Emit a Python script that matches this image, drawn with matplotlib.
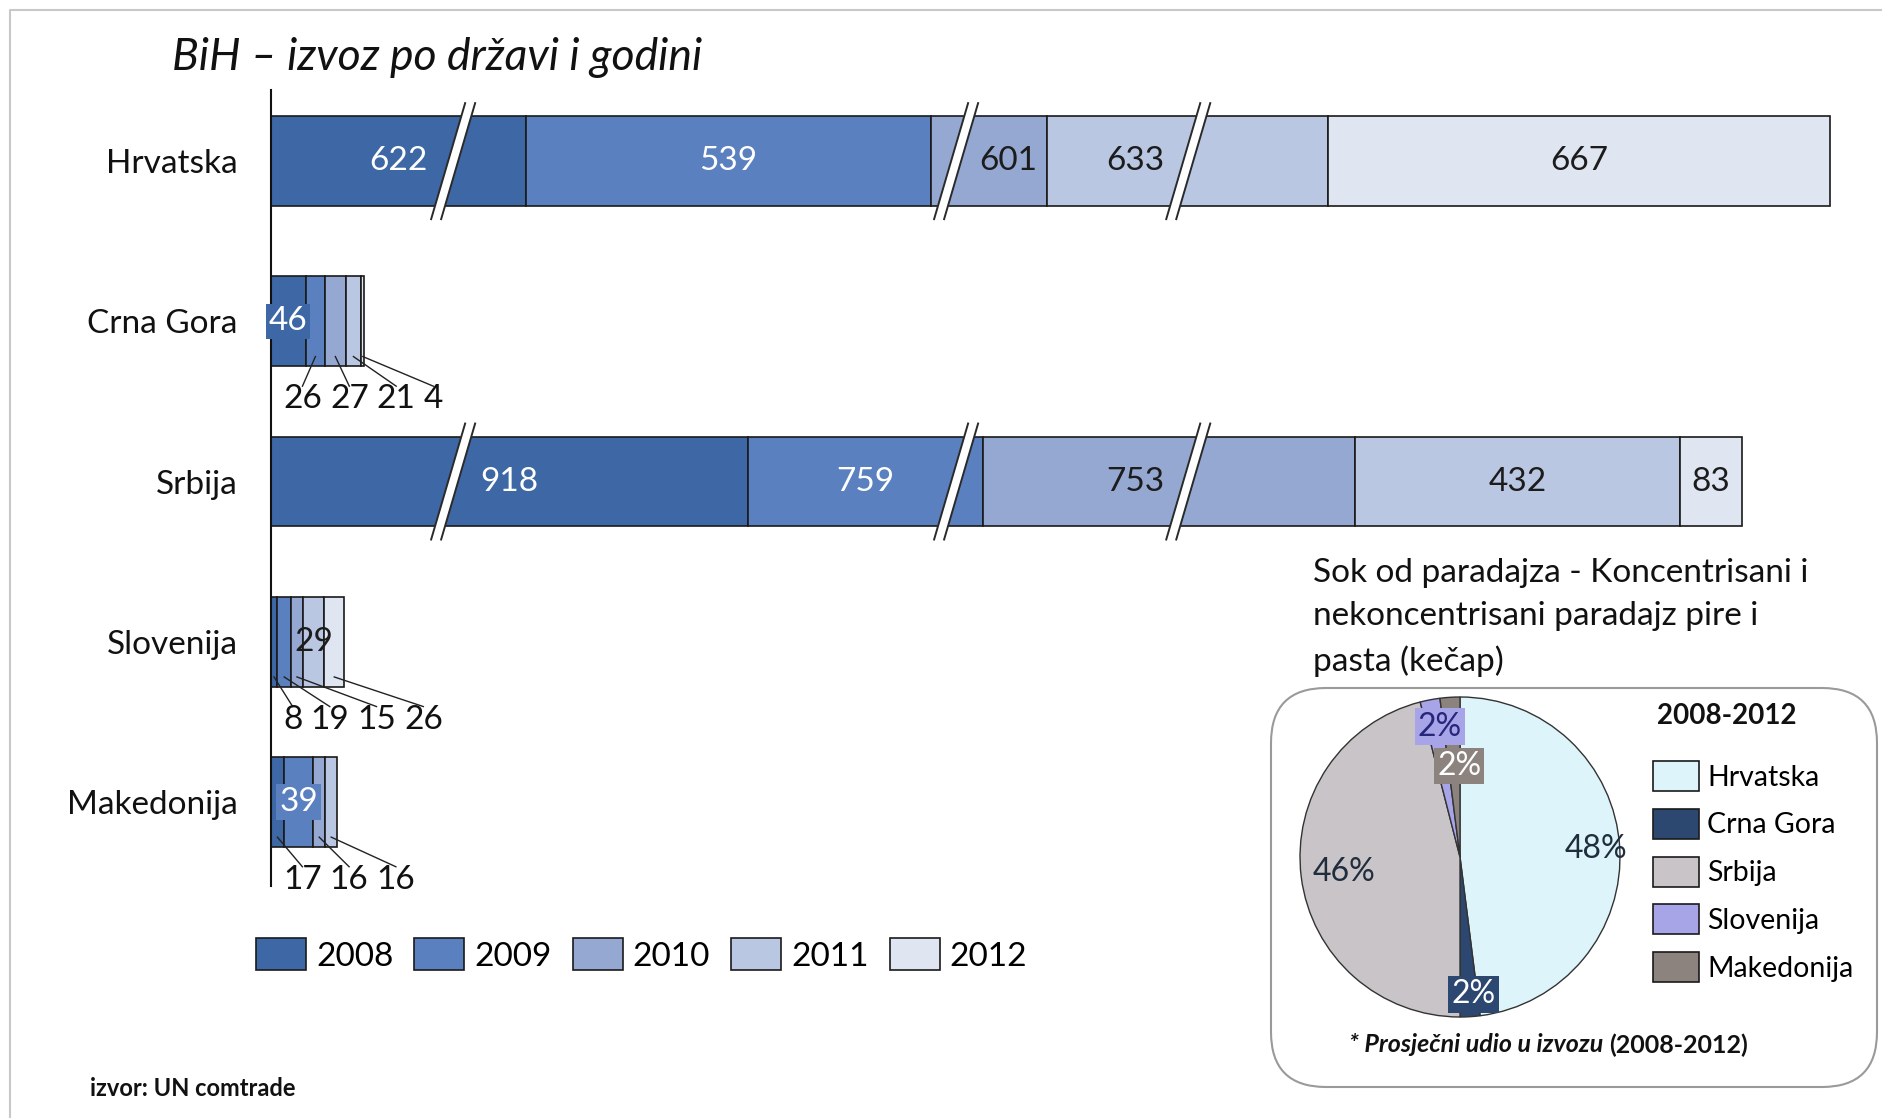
import numpy as np
import matplotlib
matplotlib.use('Agg')
import matplotlib.pyplot as plt
import matplotlib.transforms as mtransforms
from matplotlib.patches import Patch, Polygon, FancyBboxPatch
from matplotlib.lines import Line2D

plt.rcParams['font.family'] = ['Lato', 'DejaVu Sans']

# ---------------- data ----------------
countries = ['Hrvatska', 'Crna Gora', 'Srbija', 'Slovenija', 'Makedonija']
years = ['2008', '2009', '2010', '2011', '2012']
v2008 = [622, 46, 918, 8, 17]
v2009 = [539, 26, 759, 19, 39]
v2010 = [601, 27, 753, 15, 16]
v2011 = [633, 21, 432, 29, 16]
v2012 = [667, 4, 83, 26, 0]
# value ranges cut out of the x axis (drawn as // marks)
axis_breaks = [(242, 526), (1194, 1642), (1950, 2209)]
broken_rows = ['Hrvatska', 'Srbija']

pie_names = ['Hrvatska', 'Crna Gora', 'Srbija', 'Slovenija', 'Makedonija']
pie_share = [48, 2, 46, 2, 2]

# ---------------- style ----------------
W, H = 1883, 1118
BIG = 24
year_colors = ['#3D68A5', '#5B80C0', '#95A8D2', '#BAC7E2', '#DFE5F1']
year_text = ['white', 'white', '#1c1c1c', '#1c1c1c', '#1c1c1c']
pie_colors = ['#DDF5FA', '#2C4770', '#C9C4C7', '#A8A4E8', '#8C837F']
pie_text = ['#1f2d3d', 'white', '#1f2d3d', '#26267a', 'white']
pie_dist = [0.82, 0.86, 0.76, 0.83, 0.57]
pie_box = [False, True, False, True, True]
label_nudge = {('Hrvatska', 2): 19, ('Hrvatska', 3): -52, ('Srbija', 2): -33}

EPS = 0.001


def fwd(x):
    x = np.asarray(x, dtype=float)
    out = x.copy()
    for a, b in axis_breaks:
        out = out - np.clip(x - a, 0, b - a) * (1 - EPS)
    return out


_knots = np.array([-1e5] + [v for ab in axis_breaks for v in ab] + [1e5], dtype=float)


def inv(y):
    return np.interp(np.asarray(y, dtype=float), fwd(_knots), _knots)


fig = plt.figure(figsize=(W / 100, H / 100), dpi=100)
px = mtransforms.IdentityTransform()

# outer frame lines
fig.add_artist(Line2D([10, 10, W], [0, H - 10, H - 10], transform=px, color='#c8c8c8', lw=1.5))

ax = fig.add_axes([271 / W, 1 - 886 / H, 1579 / W, 796 / H])
ax.patch.set_visible(False)
ax.set_xscale('function', functions=(fwd, inv))
ax.set_xlim(0, 3088)
ax.set_ylim(4.525, -0.444)
for s in ['top', 'right', 'bottom']:
    ax.spines[s].set_visible(False)
ax.spines['left'].set_linewidth(1.5)
ax.spines['left'].set_color('#111111')
ax.set_xticks([])
ax.set_xticks([], minor=True)
ax.set_yticks(range(len(countries)))
ax.set_yticklabels(countries, fontsize=BIG, color='#111111')
ax.tick_params(axis='y', length=0, pad=24)

series = np.array([v2008, v2009, v2010, v2011, v2012], dtype=float)
ypos = np.arange(len(countries))
BAR_H = 0.56
left = np.zeros(len(countries))
for j, yr in enumerate(years):
    vals = series[j]
    mask = vals > 0
    ax.barh(ypos[mask], vals[mask], left=left[mask], height=BAR_H,
            color=year_colors[j], edgecolor='#1a1a1a', lw=1.2, label=yr)
    left = left + vals

renderer = fig.canvas.get_renderer()

# data labels
for i, c in enumerate(countries):
    vals = series[:, i]
    starts = np.concatenate([[0], np.cumsum(vals)[:-1]])
    centers = [inv((fwd(s) + fwd(s + v)) / 2) for s, v in zip(starts, vals)]
    if c in broken_rows:
        for j, v in enumerate(vals):
            tr = mtransforms.offset_copy(ax.transData, fig=fig, x=label_nudge.get((c, j), 0), units='dots')
            ax.text(centers[j], i, f'{int(v)}', transform=tr, ha='center', va='center',
                    fontsize=BIG, color=year_text[j])
    else:
        k = int(np.argmax(vals))
        kw = {}
        if k < 2:
            kw['bbox'] = dict(boxstyle='square,pad=0.08', fc=year_colors[k], ec='none')
        ax.text(centers[k], i, f'{int(vals[k])}', ha='center', va='center',
                fontsize=BIG, color=year_text[k], **kw)
        # the rest go below the bar with leader lines
        x0 = ax.transData.transform((0, i))[0] + 12
        ybot = ax.transData.transform((0, i + BAR_H / 2))[1]
        ylab = ybot - 33
        for j, v in enumerate(vals):
            if j == k or v <= 0:
                continue
            t = fig.text(x0, ylab, f'{int(v)}', transform=px, ha='left', va='center',
                         fontsize=BIG, color='#111111')
            bb = t.get_window_extent(renderer)
            xa, ya = ax.transData.transform((centers[j], i + 0.22))
            fig.add_artist(Line2D([(bb.x0 + bb.x1) / 2, xa], [bb.y1 - 2, ya], transform=px,
                                  color='#222222', lw=1.0))
            x0 = bb.x1 + 8

# axis break marks
for c in broken_rows:
    i = countries.index(c)
    for a, b in axis_breaks:
        tr = mtransforms.ScaledTranslation(a, i, ax.transData)
        hh, sl, hw = 58, 17, 5
        ax.add_patch(Polygon([(-sl - hw, -hh), (-sl + hw, -hh), (sl + hw, hh), (sl - hw, hh)],
                             closed=True, transform=tr, fc='white', ec='none', clip_on=False, zorder=5))
        for d in (-hw, hw):
            ax.add_artist(Line2D([-sl + d, sl + d], [-hh, hh], transform=tr, color='#2a2a2a',
                                 lw=1.4, clip_on=False, zorder=6))

# year legend
handles = [Patch(facecolor=year_colors[j], edgecolor='#1a1a1a', lw=1.2) for j in range(len(years))]
fig.legend(handles, years, loc='center left', bbox_to_anchor=(256 / W, 1 - 955 / H), ncol=5,
           frameon=False, fontsize=BIG, handlelength=1.5, handleheight=1.1, handletextpad=0.3,
           columnspacing=0.63, borderaxespad=0, borderpad=0)

fig.text(172 / W, 1 - 57 / H, 'BiH – izvoz po državi i godini', style='italic', fontsize=32,
         va='center', color='#111111')
fig.text(90 / W, 1 - 1089 / H, 'izvor: UN comtrade', weight='bold', fontsize=17, va='center',
         color='#111111')

# ---------------- pie panel ----------------
fig.add_artist(FancyBboxPatch((1271, 31), 606, 399, boxstyle='round,pad=0,rounding_size=55',
                              transform=px, fc='white', ec='#9a9a9a', lw=1.5, zorder=-1))
fig.text(1313 / W, 1 - 558 / H,
         'Sok od paradajza - Koncentrisani i\nnekoncentrisani paradajz pire i\npasta (kečap)',
         fontsize=BIG, va='top', ha='left', linespacing=1.55, color='#111111')

pax = fig.add_axes([(1460 - 164) / W, (1118 - 857 - 164) / H, 328 / W, 328 / H])
pax.set_zorder(2)
pax.patch.set_visible(False)
wedges, _ = pax.pie(pie_share, colors=pie_colors, startangle=90, counterclock=False,
                    wedgeprops=dict(edgecolor='#333333', lw=1.0))
pax.set_xlim(-1.025, 1.025)
pax.set_ylim(-1.025, 1.025)
pax.set_aspect('equal')
for w, v, d, tc, box, fc in zip(wedges, pie_share, pie_dist, pie_text, pie_box, pie_colors):
    ang = np.deg2rad((w.theta1 + w.theta2) / 2)
    kw = {}
    if box:
        kw['bbox'] = dict(boxstyle='square,pad=0.1', fc=fc, ec='none')
    pax.text(d * np.cos(ang) + 0.03, d * np.sin(ang), f'{v}%', ha='center', va='center',
             fontsize=23, color=tc, **kw)

fig.text(1657, 1118 - 716, '2008-2012', transform=px, fontsize=20, weight='bold',
         va='center', ha='left', color='#111111')
leg_handles = [Patch(facecolor=c, edgecolor='#1a1a1a', lw=1.2) for c in pie_colors]
fig.legend(leg_handles, pie_names, loc='upper left', bbox_to_anchor=(1653 / W, 1 - 761 / H),
           frameon=False, fontsize=20.5, handlelength=1.6, handleheight=1.25,
           labelspacing=0.62, handletextpad=0.3, borderaxespad=0, borderpad=0)

t1 = fig.text(1349, 1118 - 1045, '* Prosječni udio u izvozu', transform=px, fontsize=18,
              weight='bold', style='italic', va='center', ha='left', color='#111111')
bb = t1.get_window_extent(renderer)
fig.text(bb.x1 + 6, 1118 - 1045, '(2008-2012)', transform=px, fontsize=18, weight='bold',
         va='center', ha='left', color='#111111')

plt.savefig('out.png', dpi=100)
